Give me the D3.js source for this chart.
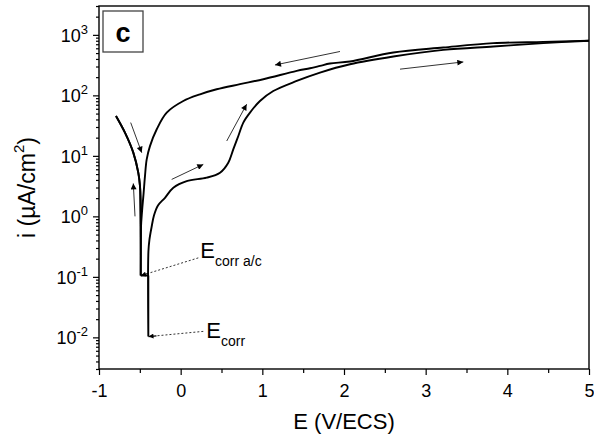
<!DOCTYPE html>
<html><head><meta charset="utf-8">
<script src="https://cdn.jsdelivr.net/npm/d3@7"></script>
<style>body{margin:0;background:#fff}svg{display:block}</style>
</head><body>
<svg id="chart" width="594" height="437"></svg>
<script>
// ---- data (E in V/ECS, i in µA/cm²) ----
const forwardE = [-0.792,-0.682,-0.580,-0.519,-0.498,-0.489,-0.489,-0.396,-0.396,-0.395,-0.382,-0.357,-0.327,-0.278,-0.192,-0.090,0.074,0.319,0.482,0.583,0.644,0.706,0.767,0.849,0.971,1.134,1.421,1.706,2.073,2.604,3.216,3.828,4.440,5.0];
const forwardI = [45.6,24.2,11.3,5.27,3.16,1.9,0.105,0.105,0.0103,0.262,0.415,0.655,1.03,1.51,2.03,2.98,3.83,4.36,5.27,7.71,12.8,21.3,35.5,51.9,80.7,118,173,238,327,439,565,643,729,800];
const reverseE = [5.0,4.440,3.828,3.216,2.604,2.073,1.828,1.706,1.584,1.421,1.012,0.726,0.441,0.237,0.032,-0.171,-0.293,-0.376,-0.416,-0.437,-0.455,-0.473,-0.486,-0.489,-0.491,-0.495,-0.498,-0.519,-0.580,-0.682,-0.792];
const reverseI = [800,766,729,618,511,363,336,307,281,254,185,153,126,104,80.7,51.9,27.5,14.5,8.75,4.63,2.31,1.21,0.655,0.105,0.45,1.8,3.16,5.27,11.3,24.2,45.6];

// scan direction arrows [from -> to]
const arrowFromE = [-0.612,-0.559,-0.110,0.564,1.951,2.686];
const arrowFromI = [35.5,1.0,4.08,17.6,531,271];
const arrowToE   = [-0.477,-0.580,0.277,0.808,1.155,3.461];
const arrowToI   = [11.3,3.5,7.23,71.3,318,357];

// corrosion potential pointers
const pointerLabels = ["corr a/c","corr"];
const pointerFromE = [0.216,0.277];
const pointerFromI = [0.206,0.01256];
const pointerToE   = [-0.486,-0.394];
const pointerToI   = [0.105,0.0103];

const xTicks = [-1,0,1,2,3,4,5];
const yTickExps = [-2,-1,0,1,2,3];
const xDomain = [-1,5];
const yDomain = [0.003,3000];
const xTitle = "E (V/ECS)";
const panelLabel = "c";

// ---- layout ----
const svg = d3.select("#chart");
const L = 99, R = 589, T = 6, B = 369;
const FONT = "'Liberation Sans', Arial, Helvetica, sans-serif";
const x = d3.scaleLinear().domain(xDomain).range([L, R]);
const y = d3.scaleLog().domain(yDomain).range([B, T]);

const defs = svg.append("defs");
defs.append("marker").attr("id","head").attr("viewBox","0 0 10 10")
  .attr("refX",10).attr("refY",5).attr("markerUnits","userSpaceOnUse")
  .attr("markerWidth",9).attr("markerHeight",6).attr("orient","auto")
  .append("path").attr("d","M0,0 L10,5 L0,10 z").attr("fill","#000");
defs.append("marker").attr("id","headSmall").attr("viewBox","0 0 10 10")
  .attr("refX",10).attr("refY",5).attr("markerUnits","userSpaceOnUse")
  .attr("markerWidth",7).attr("markerHeight",5).attr("orient","auto")
  .append("path").attr("d","M0,0 L10,5 L0,10 z").attr("fill","#000");

// axes
const yMajor = yTickExps.map(e => Math.pow(10, e));
const yMinor = [];
for (let e = -3; e <= 3; e++) for (let m = 2; m <= 9; m++) {
  const v = m * Math.pow(10, e);
  if (v >= yDomain[0] - 1e-12 && v <= yDomain[1] + 1e-9) yMinor.push(v);
}
const yAxisMinor = d3.axisLeft(y).tickValues(yMinor).tickSize(3).tickFormat("");
const yAxisMajor = d3.axisLeft(y).tickValues(yMajor).tickSize(6).tickFormat("");
const gy1 = svg.append("g").attr("transform",`translate(${L},0)`).call(yAxisMinor);
const gy2 = svg.append("g").attr("transform",`translate(${L},0)`).call(yAxisMajor);
[gy1,gy2].forEach(g => { g.select(".domain").remove(); g.selectAll("line").attr("stroke","#000").attr("stroke-width",1.2); });

const xMinor = d3.range(xDomain[0]+0.5, xDomain[1], 1);
const xAxisMinor = d3.axisBottom(x).tickValues(xMinor).tickSize(4).tickFormat("");
const xAxisMajor = d3.axisBottom(x).tickValues(xTicks).tickSize(6).tickFormat(d => String(d));
const gx1 = svg.append("g").attr("transform",`translate(0,${B})`).call(xAxisMinor);
const gx2 = svg.append("g").attr("transform",`translate(0,${B})`).call(xAxisMajor);
[gx1,gx2].forEach(g => { g.select(".domain").remove(); g.selectAll("line").attr("stroke","#000").attr("stroke-width",1.2); });
gx2.selectAll("text").attr("font-family",FONT).attr("font-size",18).attr("fill","#000")
  .attr("dy",null).attr("y",28);

// y tick labels 10^n
yTickExps.forEach(e => {
  const t = svg.append("text").attr("x", L - 11).attr("y", y(Math.pow(10,e)) + 7)
    .attr("text-anchor","end").attr("font-family",FONT).attr("font-size",18).attr("fill","#000");
  t.append("tspan").text("10");
  t.append("tspan").attr("font-size",13).attr("dy",-8).text(String(e));
});

// frame
svg.append("rect").attr("x",L).attr("y",T).attr("width",R-L).attr("height",B-T)
  .attr("fill","none").attr("stroke","#000").attr("stroke-width",1.4);

// titles
svg.append("text").attr("x",(L+R)/2).attr("y",429).attr("text-anchor","middle")
  .attr("font-family",FONT).attr("font-size",22).attr("fill","#000").text(xTitle);
const yt = svg.append("text").attr("transform",`translate(35,${(T+B)/2}) rotate(-90)`)
  .attr("text-anchor","middle").attr("font-family",FONT).attr("font-size",23).attr("fill","#000");
yt.append("tspan").text("i (µA/cm");
yt.append("tspan").attr("font-size",15).attr("dy",-11).text("2");
yt.append("tspan").attr("dy",11).text(")");

// panel label
svg.append("rect").attr("x",103).attr("y",11).attr("width",40).attr("height",41)
  .attr("fill","#fff").attr("stroke","#444").attr("stroke-width",1.3);
svg.append("text").attr("x",123).attr("y",42).attr("text-anchor","middle")
  .attr("font-family",FONT).attr("font-weight","bold").attr("font-size",27).attr("fill","#000").text(panelLabel);

// curves: smooth, but split at sharp corners so the spikes stay sharp
const line = d3.line().x(d => d[0]).y(d => d[1]).curve(d3.curveCatmullRom.alpha(0.5));
function splitAtCorners(pts) {
  const segs = []; let cur = [pts[0]];
  for (let k = 1; k < pts.length; k++) {
    cur.push(pts[k]);
    if (k < pts.length - 1) {
      const ax = pts[k][0]-pts[k-1][0], ay = pts[k][1]-pts[k-1][1];
      const bx = pts[k+1][0]-pts[k][0], by = pts[k+1][1]-pts[k][1];
      const c = (ax*bx + ay*by) / (Math.hypot(ax,ay) * Math.hypot(bx,by) || 1);
      if (c < 0.3) { segs.push(cur); cur = [pts[k]]; }
    }
  }
  segs.push(cur);
  return segs;
}
[[forwardE, forwardI], [reverseE, reverseI]].forEach(([es, is]) => {
  const pts = es.map((e,k) => [x(e), y(is[k])]);
  const d = splitAtCorners(pts).map(s => line(s)).join("");
  svg.append("path").attr("d", d).attr("fill","none")
    .attr("stroke","#000").attr("stroke-width",1.9).attr("stroke-linejoin","miter");
});

// direction arrows
arrowFromE.forEach((e,i) => {
  svg.append("line").attr("x1",x(e)).attr("y1",y(arrowFromI[i]))
    .attr("x2",x(arrowToE[i])).attr("y2",y(arrowToI[i]))
    .attr("stroke","#333").attr("stroke-width",1).attr("marker-end","url(#head)");
});

// pointers with labels
pointerLabels.forEach((lab,i) => {
  const x1 = x(pointerFromE[i]), y1 = y(pointerFromI[i]);
  const x2 = x(pointerToE[i]), y2 = y(pointerToI[i]);
  const len = Math.hypot(x2-x1, y2-y1), k = (len - 8) / len;
  const xm = x1 + (x2-x1)*k, ym = y1 + (y2-y1)*k;
  svg.append("line").attr("x1",x1).attr("y1",y1).attr("x2",xm).attr("y2",ym)
    .attr("stroke","#333").attr("stroke-width",1).attr("stroke-dasharray","2,2");
  svg.append("line").attr("x1",xm).attr("y1",ym).attr("x2",x2).attr("y2",y2)
    .attr("stroke","#000").attr("stroke-width",1.2).attr("marker-end","url(#headSmall)");
  const t = svg.append("text").attr("x", x1 + 2 + (i ? 1 : 0)).attr("y", y1 + (i ? 6.5 : 0))
    .attr("font-family",FONT).attr("font-size",22).attr("fill","#000");
  t.append("tspan").text("E");
  t.append("tspan").attr("font-size",14).attr("dy",8).text(lab);
});
</script>
</body></html>
